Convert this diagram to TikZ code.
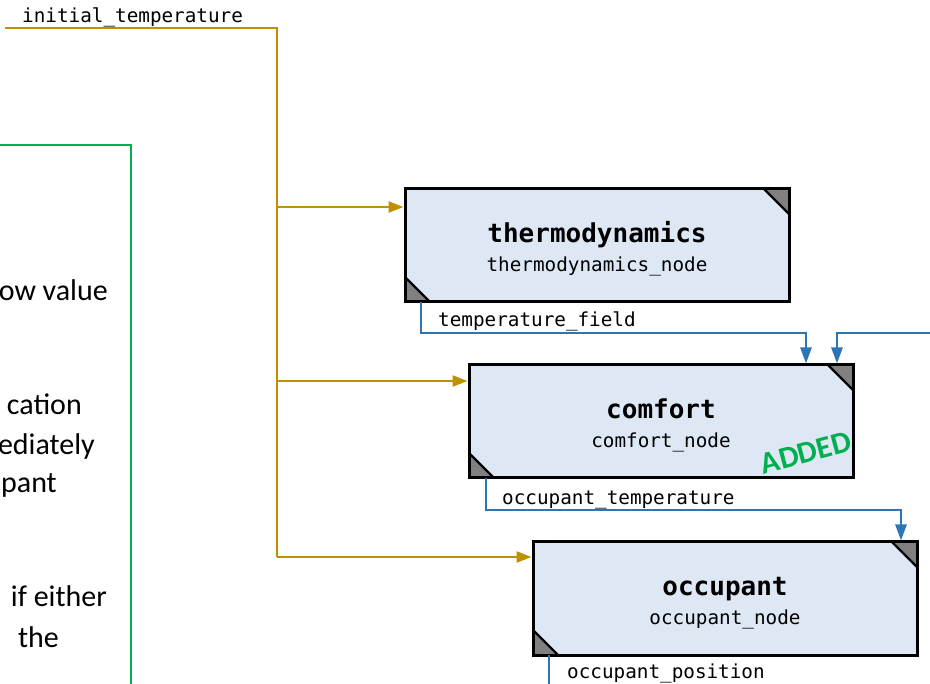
\documentclass[tikz,border=0pt]{standalone}
\usepackage{fontspec}
\setmainfont{Carlito}
\setmonofont{DejaVu Sans Mono}
\usetikzlibrary{arrows.meta,calc}

\definecolor{flowgold}{HTML}{BF9000}
\definecolor{flowblue}{HTML}{2E75B6}
\definecolor{modfill}{HTML}{DEE8F5}
\definecolor{notegreen}{HTML}{00B050}
\definecolor{cornergray}{HTML}{808080}

\tikzset{
  module/.style={draw=black, line width=3pt, fill=modfill,
    minimum width=384pt, minimum height=113pt, inner sep=0pt, outer sep=0pt},
  modtitle/.style={anchor=base, inner sep=0pt,
    font=\fontsize{26}{30}\selectfont\ttfamily\bfseries},
  modsub/.style={anchor=base, inner sep=0pt,
    font=\fontsize{19.3}{23}\selectfont\ttfamily},
  portlabel/.style={anchor=base west, inner sep=0pt,
    font=\fontsize{19.3}{23}\selectfont\ttfamily},
  notetext/.style={anchor=base east, inner sep=0pt,
    font=\fontsize{30}{36}\selectfont},
  goldflow/.style={draw=flowgold, line width=2.6pt,
    -{Triangle[length=15pt,width=11pt]}, shorten >=1.5pt},
  blueflow/.style={draw=flowblue, line width=2.6pt,
    -{Triangle[length=16pt,width=11pt]}, shorten >=1.5pt},
  bluewire/.style={draw=flowblue, line width=2.6pt},
}

\begin{document}
\begin{tikzpicture}[x=1pt, y=-1pt]
  \useasboundingbox (0,0) rectangle (930,684);
  \fill[white] (0,0) rectangle (930,684);

  % note panel on the left
  \draw[notegreen, line width=1.4pt] (-20,145) rectangle (131,700);
  \node[notetext] (n1) at (108,301) {ow value};
  \node[notetext] (n2) at (82,415) {cation};
  \node[notetext] (n3) at (95,455) {ediately};
  \node[notetext] (n4) at (57,493) {pant};
  \node[notetext] (n5) at (107,607) {if either};
  \node[notetext] (n6) at (59,647) {the};

  % modules
  \node[module] (th) at (597,245.5) {};
  \node[module] (cf) at (661,421.5) {};
  \node[module] (oc) at (725,598.5) {};

  \foreach \m in {th,cf,oc}{
    \fill[cornergray] (\m.north east) -- ++(-25,0) -- ++(25,25) -- cycle;
    \fill[cornergray] (\m.south west) -- ++(25,0) -- ++(-25,-25) -- cycle;
    \draw[line width=2.2pt] ($(\m.north east)+(-25,0)$) -- ($(\m.north east)+(0,25)$);
    \draw[line width=2.2pt] ($(\m.south west)+(25,0)$) -- ($(\m.south west)+(0,-25)$);
    \draw[line width=3pt] (\m.north west) rectangle (\m.south east);
  }

  \node[modtitle] (thT) at ($(th.north)+(0,54)$) {thermodynamics};
  \node[modsub]   (thS) at ($(th.north)+(0,83)$) {thermodynamics\_node};
  \node[modtitle] (cfT) at ($(cf.north)+(0,54)$) {comfort};
  \node[modsub]   (cfS) at ($(cf.north)+(0,83)$) {comfort\_node};
  \node[modtitle] (ocT) at ($(oc.north)+(0,54)$) {occupant};
  \node[modsub]   (ocS) at ($(oc.north)+(0,83)$) {occupant\_node};

  \node[rotate=15, inner sep=0pt, text=notegreen,
        font=\fontsize{31}{33}\selectfont\bfseries] (added) at (806,453) {ADDED};

  % initial temperature feed
  \node[portlabel] (initlbl) at (22,23) {initial\_temperature};
  \coordinate (src) at (5,28);
  \coordinate (trunk) at (277,28);
  \draw[flowgold, line width=2.6pt] (src) -- (trunk) -- (trunk |- {$(oc.north west)+(0,15)$});
  \draw[goldflow] (trunk |- {$(th.north west)+(0,18)$}) -- ($(th.north west)+(0,18)$);
  \draw[goldflow] (trunk |- {$(cf.north west)+(0,16)$}) -- ($(cf.north west)+(0,16)$);
  \draw[goldflow] (trunk |- {$(oc.north west)+(0,15)$}) -- ($(oc.north west)+(0,15)$);

  % module outputs
  \node[portlabel] (tflbl) at (438,327) {temperature\_field};
  \draw[blueflow] ($(th.south west)+(16,0)$) -- ++(0,31) -| ($(cf.north east)+(-47,0)$);

  \coordinate (ext) at (940,333);
  \draw[blueflow] (ext) -| ($(cf.north east)+(-16,0)$);

  \node[portlabel] (otlbl) at (502,505) {occupant\_temperature};
  \draw[blueflow] ($(cf.south west)+(17,0)$) -- ++(0,32) -| ($(oc.north east)+(-16,0)$);

  \node[portlabel] (oplbl) at (567,678) {occupant\_position};
  \coordinate (opend) at (960,685);
  \draw[bluewire] ($(oc.south west)+(16,0)$) |- (opend);
\end{tikzpicture}
\end{document}
